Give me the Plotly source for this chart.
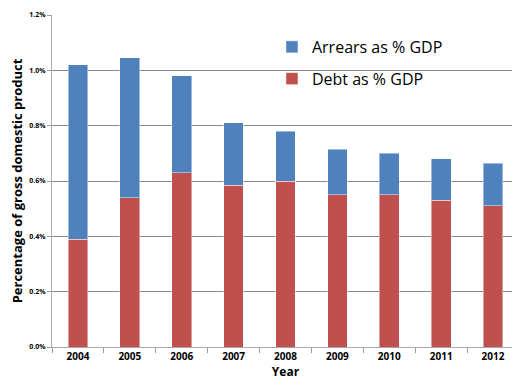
import plotly.graph_objects as go

years = ["2004", "2005", "2006", "2007", "2008", "2009", "2010", "2011", "2012"]
debt_pct = [0.39, 0.54, 0.63, 0.585, 0.60, 0.55, 0.55, 0.53, 0.51]
arrears_pct = [0.63, 0.505, 0.35, 0.225, 0.18, 0.165, 0.15, 0.15, 0.155]
y_ticks = [0.0, 0.2, 0.4, 0.6, 0.8, 1.0, 1.2]

debt = [v / 100 for v in debt_pct]
arrears = [v / 100 for v in arrears_pct]
tickvals = [v / 100 for v in y_ticks]

fig = go.Figure()
fig.add_trace(go.Bar(x=years, y=debt, name="Debt as % GDP", legendgroup="d", legendrank=2,
                     marker=dict(color="#C0504D", line=dict(color="rgba(255,255,255,0.45)", width=1))))
fig.add_trace(go.Bar(x=years, y=arrears, name="Arrears as % GDP", legendgroup="a", legendrank=1,
                     marker=dict(color="#4F81BD", line=dict(color="rgba(255,255,255,0.45)", width=1))))

# page body has an 8px default margin, so the figure is sized/margined to compensate
fig.update_layout(
    width=512, height=374,
    barmode="stack", bargap=0.62,
    margin=dict(l=44, r=1, t=7, b=35),
    paper_bgcolor="white", plot_bgcolor="white",
    font=dict(family="Open Sans, Liberation Sans, sans-serif", color="#000"),
    legend=dict(x=0.471, y=0.955, xanchor="left", yanchor="top",
                traceorder="grouped", tracegroupgap=8,
                font=dict(size=16, family="Open Sans"), bgcolor="rgba(0,0,0,0)"),
    xaxis=dict(
        automargin=False,
        showline=True, linecolor="#aaa", linewidth=1,
        ticks="outside", tickson="boundaries", ticklen=5, tickcolor="#999",
        tickfont=dict(size=10, family="Open Sans", weight="bold"),
        title=dict(text="<b>Year</b>", font=dict(size=12), standoff=5),
    ),
    yaxis=dict(
        automargin=False,
        range=[0, 0.012], tickvals=tickvals, tickformat=".1%",
        showline=True, linecolor="#aaa", linewidth=1,
        ticks="outside", ticklen=4, tickcolor="#999",
        showgrid=True, gridcolor="#8a8a8a", gridwidth=1,
        tickfont=dict(size=7, family="Open Sans", weight="bold"),
        title=dict(text="<b>Percentage of gross domestic product</b>", font=dict(size=13), standoff=8),
        zeroline=False,
    ),
)

fig.write_html("out.html")
